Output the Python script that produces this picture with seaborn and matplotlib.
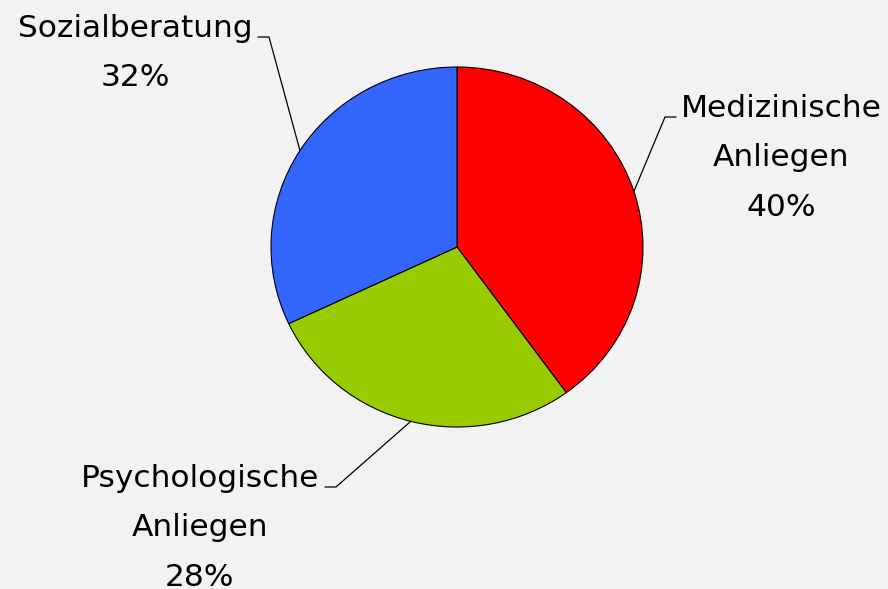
import numpy as np
import matplotlib
matplotlib.use("Agg")
import matplotlib.pyplot as plt
import seaborn as sns

# Daten
kategorien = ["Medizinische\nAnliegen", "Psychologische\nAnliegen", "Sozialberatung"]
anteile = [40, 28, 32]
farben = ["#ff0000", "#99cc00", "#3366ff"]

sns.set_theme(style="white")
plt.rcParams['font.family'] = ['DejaVu Sans']

W, H = 888, 589
fig = plt.figure(figsize=(W / 100, H / 100), dpi=100, facecolor="#f2f2f2")

# Kreis: Mitte (457, 247), Radius 186 x 180 Pixel
cx, cy, rx, ry = 457, 247, 186, 180
ax = fig.add_axes([(cx - rx) / W, (H - cy - ry) / H, 2 * rx / W, 2 * ry / H])
ax.set_facecolor("#f2f2f2")
wedges, _ = ax.pie(anteile, colors=farben, startangle=90, counterclock=False,
                   radius=1, wedgeprops=dict(edgecolor="black", linewidth=0.8))
ax.set_aspect("auto")
ax.set_xlim(-1, 1)
ax.set_ylim(-1, 1)
ax.axis("off")

# Beschriftungen (Pixelposition Textblock-Mitte, Ende der Führungslinie)
text_pos = [(781, 158), (200, 528), (135, 53)]
linie_start = [(676, 117), (325, 487), (258, 37)]
linie_knick = [(665, 117), (336, 487), (269, 37)]


def px2data(px, py):
    return (px - cx) / rx, (cy - py) / ry


for w, lab, p, tpos, ls, lk in zip(wedges, kategorien, anteile, text_pos, linie_start, linie_knick):
    mid = np.deg2rad((w.theta1 + w.theta2) / 2)
    ex, ey = np.cos(mid), np.sin(mid)
    x0, y0 = px2data(*ls)
    x1, y1 = px2data(*lk)
    ax.plot([x0, x1, ex], [y0, y1, ey], color="black", lw=0.9, clip_on=False)
    tx, ty = px2data(*tpos)
    ax.text(tx, ty, f"{lab}\n{p}%", ha="center", va="center", multialignment="center",
            fontsize=22.5, linespacing=1.88, color="black", clip_on=False)

fig.savefig("out.png", dpi=100, facecolor=fig.get_facecolor())
